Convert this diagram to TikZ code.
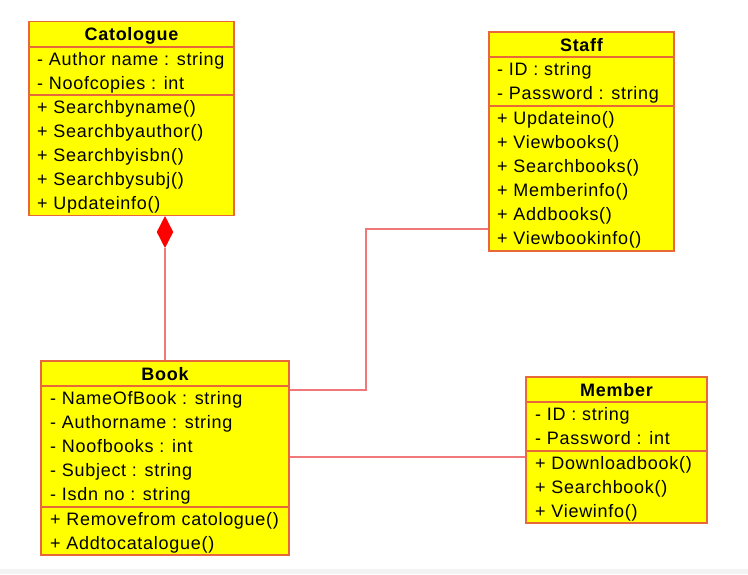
\documentclass[tikz,border=0pt]{standalone}
\usepackage{fontspec}
\setmainfont[LetterSpace=4]{Liberation Sans}
\usetikzlibrary{shapes.geometric}
\definecolor{boxline}{HTML}{E8683A}
\definecolor{boxfill}{HTML}{FFFF00}
\definecolor{conn}{HTML}{F07878}
\definecolor{band}{HTML}{F3F3F3}
\tikzset{
  cls/.style={draw=boxline, fill=boxfill, line width=1.2pt, inner sep=0pt, rectangle},
  sep/.style={draw=boxline, line width=1.2pt},
  member/.style={anchor=base west, inner sep=0pt, font=\fontsize{18}{21}\selectfont},
  title/.style={anchor=base, inner sep=0pt, font=\fontsize{18}{21}\selectfont\bfseries},
  assoc/.style={draw=conn, line width=1.2pt},
}
\begin{document}
\begin{tikzpicture}[x=1pt,y=-1pt]
\useasboundingbox (0,0) rectangle (748,574);
\fill[band] (0,569) rectangle (748,574);
% Catalogue
\node[cls, minimum width=205pt, minimum height=194pt] (cat) at (131.5,118.5) {};
\draw[sep] (29,47) -- (234,47);
\draw[sep] (29,95) -- (234,95);
\node[title] (cat-t) at (131.5,40.5) {Catologue};
\foreach \t [count=\i] in {- Author name : string, - Noofcopies : int, + Searchbyname(), + Searchbyauthor(), + Searchbyisbn(), + Searchbysubj(), + Updateinfo()}
  \node[member] (cat-\i) at (37,{59+24*(\i-1)+6.5}) {\t};
% Staff
\node[cls, minimum width=185pt, minimum height=219pt] (staff) at (581.5,141.5) {};
\draw[sep] (489,57) -- (674,57);
\draw[sep] (489,106) -- (674,106);
\node[title] (staff-t) at (581.5,51) {Staff};
\foreach \t [count=\i] in {- ID : string, - Password : string}
  \node[member] (staff-a\i) at (497,{69+24*(\i-1)+6.5}) {\t};
\foreach \t [count=\i] in {+ Updateino(), + Viewbooks(), + Searchbooks(), + Memberinfo(), + Addbooks(), + Viewbookinfo()}
  \node[member] (staff-m\i) at (497,{118+24*(\i-1)+6.5}) {\t};
% Book
\node[cls, minimum width=248pt, minimum height=194pt] (book) at (165,458) {};
\draw[sep] (41,386) -- (289,386);
\draw[sep] (41,507) -- (289,507);
\node[title] (book-t) at (165,380) {Book};
\foreach \t [count=\i] in {- NameOfBook : string, - Authorname : string, - Noofbooks : int, - Subject : string, - Isdn no : string}
  \node[member] (book-a\i) at (50,{398+24*(\i-1)+6.5}) {\t};
\foreach \t [count=\i] in {+ Removefrom catologue(), + Addtocatalogue()}
  \node[member] (book-m\i) at (50,{519+24*(\i-1)+6.5}) {\t};
% Member
\node[cls, minimum width=181pt, minimum height=146pt] (mem) at (616.5,450) {};
\draw[sep] (526,402) -- (707,402);
\draw[sep] (526,451) -- (707,451);
\node[title] (mem-t) at (616.5,396) {Member};
\foreach \t [count=\i] in {- ID : string, - Password : int}
  \node[member] (mem-a\i) at (535,{414+24*(\i-1)+6.5}) {\t};
\foreach \t [count=\i] in {+ Downloadbook(), + Searchbook(), + Viewinfo()}
  \node[member] (mem-m\i) at (535,{463+24*(\i-1)+6.5}) {\t};
% Composition
\node[diamond, fill=red, draw=red, line width=0.5pt, inner sep=0pt, minimum width=16pt, minimum height=31pt] (dia) at (165,232) {};
\draw[assoc] (dia.south) -- (book.north -| dia.south);
% Associations
\coordinate (bend1) at (366,390);
\coordinate (bend2) at (366,229);
\draw[assoc] (book.east |- bend1) -- (bend1) -- (bend2) -- (staff.west |- bend2);
\coordinate (mline) at (0,457);
\draw[assoc] (book.east |- mline) -- (mem.west |- mline);
\end{tikzpicture}
\end{document}
